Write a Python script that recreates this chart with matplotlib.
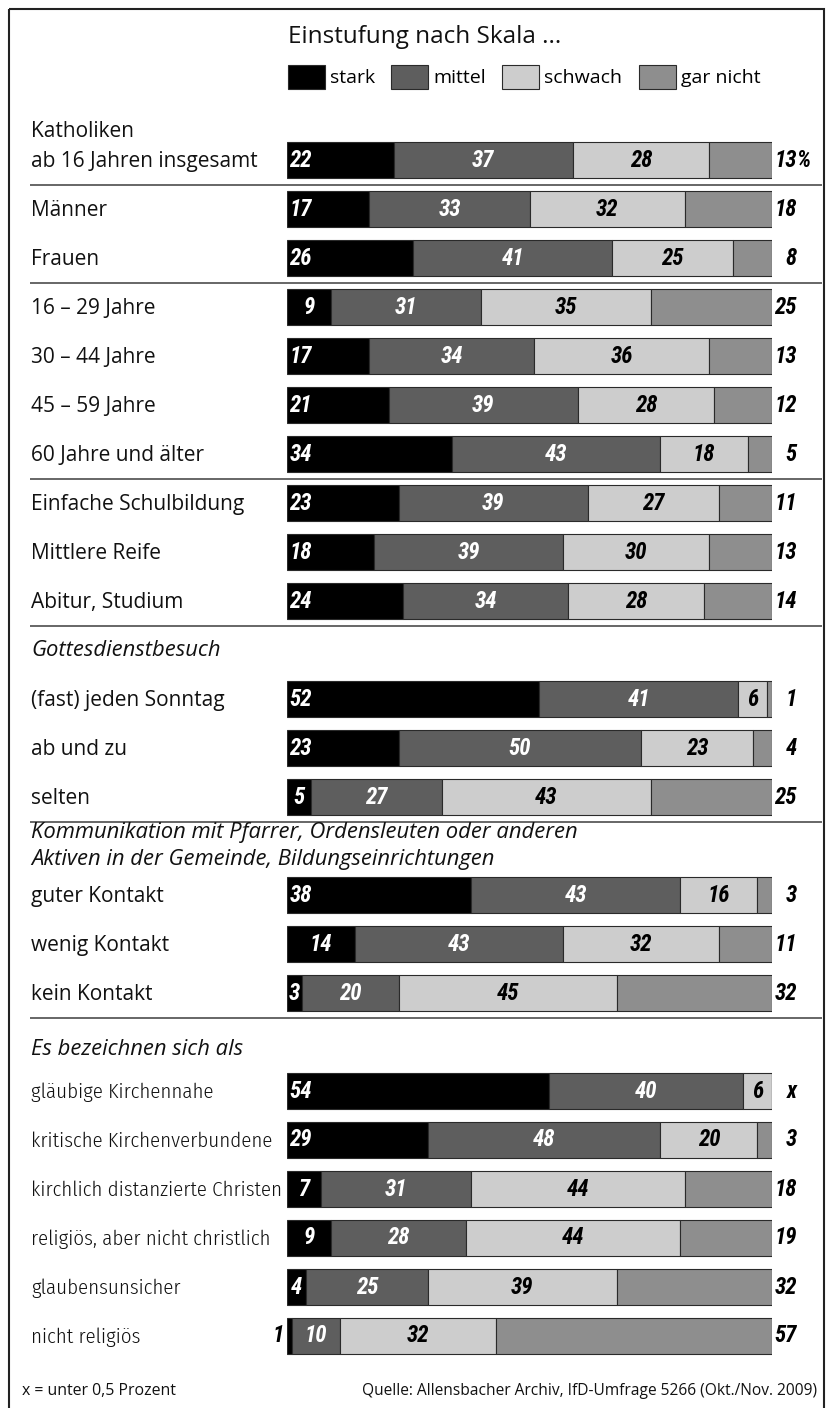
import numpy as np
import matplotlib
matplotlib.use('Agg')
import matplotlib.pyplot as plt
import matplotlib.transforms as mtransforms
from matplotlib.patches import Rectangle

# --- data ---------------------------------------------------------------
rows = ["Katholiken\nab 16 Jahren insgesamt", "Männer", "Frauen",
        "16 – 29 Jahre", "30 – 44 Jahre", "45 – 59 Jahre", "60 Jahre und älter",
        "Einfache Schulbildung", "Mittlere Reife", "Abitur, Studium",
        "(fast) jeden Sonntag", "ab und zu", "selten",
        "guter Kontakt", "wenig Kontakt", "kein Kontakt",
        "gläubige Kirchennahe", "kritische Kirchenverbundene",
        "kirchlich distanzierte Christen", "religiös, aber nicht christlich",
        "glaubensunsicher", "nicht religiös"]
stark = [22, 17, 26, 9, 17, 21, 34, 23, 18, 24, 52, 23, 5, 38, 14, 3, 54, 29, 7, 9, 4, 1]
mittel = [37, 33, 41, 31, 34, 39, 43, 39, 39, 34, 41, 50, 27, 43, 43, 20, 40, 48, 31, 28, 25, 10]
schwach = [28, 32, 25, 35, 36, 28, 18, 27, 30, 28, 6, 23, 43, 16, 32, 45, 6, 20, 44, 44, 39, 32]
gar_nicht = [13, 18, 8, 25, 13, 12, 5, 11, 13, 14, 1, 4, 25, 3, 11, 32, 0, 3, 18, 19, 32, 57]
series_names = ["stark", "mittel", "schwach", "gar nicht"]

sections = [(None, 10),
            ("Gottesdienstbesuch", 3),
            ("Kommunikation mit Pfarrer, Ordensleuten oder anderen\nAktiven in der Gemeinde, Bildungseinrichtungen", 3),
            ("Es bezeichnen sich als", 6)]
sep_after = [0, 2, 6, 9, 12, 15]

title = "Einstufung nach Skala ..."
note = "x = unter 0,5 Prozent"
source = "Quelle: Allensbacher Archiv, IfD-Umfrage 5266 (Okt./Nov. 2009)"

# --- layout -------------------------------------------------------------
W, H = 826, 1408
TOP, PITCH = 160, 49          # pixel centre of first bar, row pitch
BAR_L, BAR_W = 287, 485       # pixel start / width of 100 %
colors = ['#000000', '#5e5e5e', '#cdcdcd', '#8e8e8e']
label_font = ['Open Sans', 'DejaVu Sans']
narrow_font = ['Fira Sans Condensed', 'Open Sans', 'DejaVu Sans']
num_font = ['Roboto Condensed', 'DejaVu Sans']

def xd(px):
    return (px - BAR_L) / BAR_W * 100

def slot_px(dy):
    return dy / PITCH

fig = plt.figure(figsize=(W / 100, H / 100), dpi=100)
fig.patch.set_facecolor('white')
pix = mtransforms.Affine2D().scale(1 / W, -1 / H).translate(0, 1) + fig.transFigure

ax = fig.add_axes([BAR_L / W, 0, BAR_W / W, 1])
ax.set_xlim(0, 100)
ax.set_ylim((H - TOP) / PITCH, -TOP / PITCH)
ax.axis('off')

# slot positions for rows and headers
ys, header_slots, sec_of_row = [], [], []
slot = 0
for si, (head, n) in enumerate(sections):
    if head:
        header_slots.append((head, slot))
        slot += 1
    ys.extend(range(slot, slot + n))
    sec_of_row.extend([si] * n)
    slot += n
ys = np.array(ys, dtype=float)

data = np.array([stark, mittel, schwach, gar_nicht], dtype=float)
left = np.zeros(len(rows))
handles = []
for vals, col, name in zip(data, colors, series_names):
    b = ax.barh(ys, vals, left=left, height=36 / PITCH, color=col,
                edgecolor='#2a2a2a', linewidth=0.8, label=name)
    handles.append(b)
    left += vals

numkw = dict(family=num_font, weight='bold', style='italic',
             fontsize=16.5, va='center')
for i, y in enumerate(ys):
    s, m, w, g = data[:, i]
    if s >= 15:
        ax.text(0.5, y, f"{int(s)}", ha='left', color='white', **numkw)
    elif s >= 2:
        ax.text(s / 2, y, f"{int(s)}", ha='center', color='white', **numkw)
    else:
        ax.text(-0.6, y, f"{int(s)}", ha='right', color='black', clip_on=False, **numkw)
    ax.text(s + m / 2, y, f"{int(m)}", ha='center', color='white', **numkw)
    ax.text(s + m + w / 2, y, f"{int(w)}", ha='center', color='black', **numkw)
    gl = f"{int(g)}" if g > 0 else "x"
    ax.text(xd(797), y, gl, ha='right', color='black', clip_on=False, **numkw)
    if i == 0:
        ax.text(xd(796), y, "%", ha='left', color='black', clip_on=False, **numkw)

    # the last block of labels is set narrower in the original
    if sec_of_row[i] == 3:
        lkw = dict(family=narrow_font, weight=300, fontsize=15)
    else:
        lkw = dict(family=label_font, fontsize=15)
    lines = rows[i].split('\n')
    for k, line in enumerate(lines):
        off = (len(lines) - 1 - k) * slot_px(30)
        ax.text(xd(31), y + 0.03 - off, line, ha='left', va='center',
                color='#111111', clip_on=False, **lkw)

for head, hs in header_slots:
    lines = head.split('\n')
    n = len(lines)
    for k, line in enumerate(lines):
        dy = (k - (n - 1) / 2) * slot_px(27)
        extra = 0.16 if head.startswith("Es") else 0.0
        ax.text(xd(31), hs + dy + extra, line, ha='left', va='center',
                family=label_font, style='italic', fontsize=15.8, color='#111111',
                clip_on=False)

for r in sep_after:
    yy = ys[r] + 0.5
    ax.plot([xd(30), xd(822)], [yy, yy], color='#666666', lw=1.4,
            clip_on=False, solid_capstyle='butt')

# title and legend
ax.text(288, 37, title, transform=pix, ha='left', va='center',
        family=label_font, fontsize=17.5, color='#111111')
ax.legend(handles=handles, labels=series_names, ncol=4, loc='center left',
          bbox_to_anchor=(288, 77), bbox_transform=pix, frameon=False,
          handlelength=1.9, handleheight=1.55, handletextpad=0.25,
          columnspacing=0.85, borderpad=0, borderaxespad=0,
          prop=dict(family=label_font, size=14))

# footer
fig.text(22 / W, 1 - 1391 / H, note, ha='left', va='center',
         family=label_font, fontsize=11.4, color='#111111')
fig.text(817 / W, 1 - 1391 / H, source, ha='right', va='center',
         family=label_font, fontsize=11.2, color='#111111')

# frame
fig.add_artist(Rectangle((9, 9), 815, 1420, transform=pix, fill=False,
                         lw=1.5, ec='#222222', clip_on=False))

fig.savefig('out.png', dpi=100)
